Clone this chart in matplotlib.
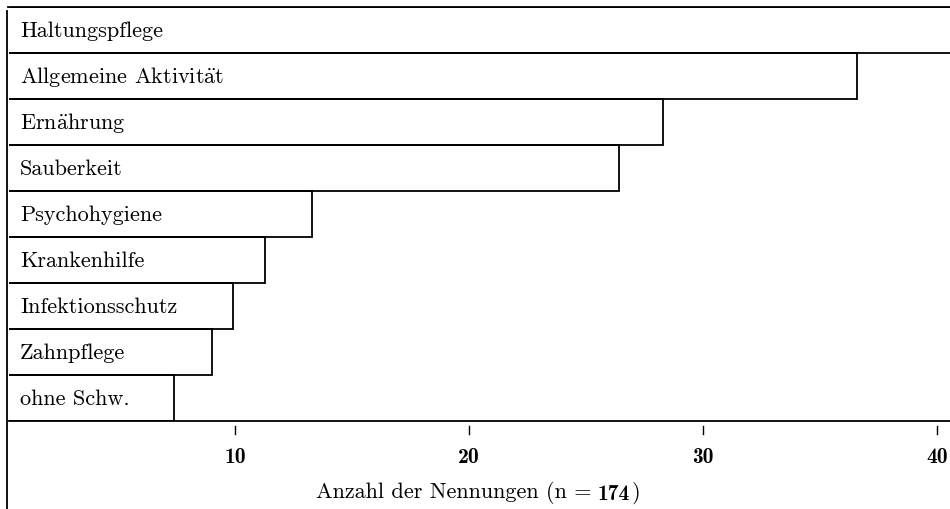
import matplotlib
matplotlib.use("Agg")
import matplotlib.pyplot as plt
from matplotlib.lines import Line2D
import matplotlib.transforms as mtransforms

categories = ["Haltungspflege", "Allgemeine Aktivit$\\ddot{\\mathrm{a}}$t",
              "Ern$\\ddot{\\mathrm{a}}$hrung", "Sauberkeit",
              "Psychohygiene", "Krankenhilfe", "Infektionsschutz", "Zahnpflege",
              "ohne Schw."]
values = [44.0, 36.6, 28.3, 26.4, 13.3, 11.3, 9.9, 9.0, 7.4]
xticks = [10, 20, 30, 40]
xtick_labels = ["10", "20", "30", "40"]
xlabel_parts = ["Anzahl der Nennungen (n =", "174", ")"]

FONT = ["cmr10", "DejaVu Serif"]
BOLD = ["cmb10", "DejaVu Serif"]
plt.rcParams["font.family"] = FONT
plt.rcParams["mathtext.fontset"] = "cm"
plt.rcParams["axes.unicode_minus"] = False
plt.rcParams["axes.formatter.use_mathtext"] = False

W, H = 950, 510
fig = plt.figure(figsize=(9.5, 5.1), dpi=100)
# axes: pixel x 9..950, y 8..422 (from top)
ax = fig.add_axes([9 / W, (H - 422) / H, (950 - 9) / W, (422 - 8) / H])

n = len(categories)
ypos = list(range(n))
ax.barh(ypos, values, height=1.0, left=0, color="none", edgecolor="black",
        linewidth=1.3)

x0 = (9 - 1) / 23.4
x1 = (950 - 1) / 23.4
ax.set_xlim(x0, x1)
ax.set_ylim(n - 0.5, -0.5)

for y, lab in zip(ypos, categories):
    ax.text(x0 + 11 / 23.4, y, lab, ha="left", va="center", fontsize=16,
            family=FONT)

for s in ["left", "right", "top"]:
    ax.spines[s].set_visible(False)
ax.spines["bottom"].set_linewidth(1.3)
ax.set_yticks([])
ax.set_xticks(xticks)
ax.set_xticklabels(xtick_labels, fontsize=15.5, family=BOLD)
ax.tick_params(axis="x", length=0, pad=19)

# detached tick marks below axis line
trans = mtransforms.blended_transform_factory(ax.transData, ax.transAxes)
axh = 422 - 8
for t in xticks:
    ax.add_line(Line2D([t, t], [-(5 / axh), -(13 / axh)], transform=trans,
                       color="black", linewidth=1.0, clip_on=False))

# x label with bold count
t1 = fig.text(316 / W, 1 - 498 / H, xlabel_parts[0], fontsize=16, family=FONT,
              ha="left", va="baseline")
t2 = ax.annotate(xlabel_parts[1], xy=(1, 0), xycoords=t1, xytext=(4.5, 0),
                 textcoords="offset points", fontsize=15.5, family=BOLD,
                 ha="left", va="bottom")
ax.annotate(xlabel_parts[2], xy=(1, 0), xycoords=t1, xytext=(4.5 + 24.5, 0),
            textcoords="offset points", fontsize=16, family=FONT,
            ha="left", va="bottom")

# left frame line running to the bottom of the figure
fig.add_artist(Line2D([7 / W, 7 / W], [0, (H - 12) / H], transform=fig.transFigure,
                      color="black", linewidth=1.3))
# top border line
fig.add_artist(Line2D([8 / W, 1], [(H - 8) / H, (H - 8) / H], transform=fig.transFigure,
                      color="black", linewidth=1.3))

fig.savefig("out.png", dpi=100)
